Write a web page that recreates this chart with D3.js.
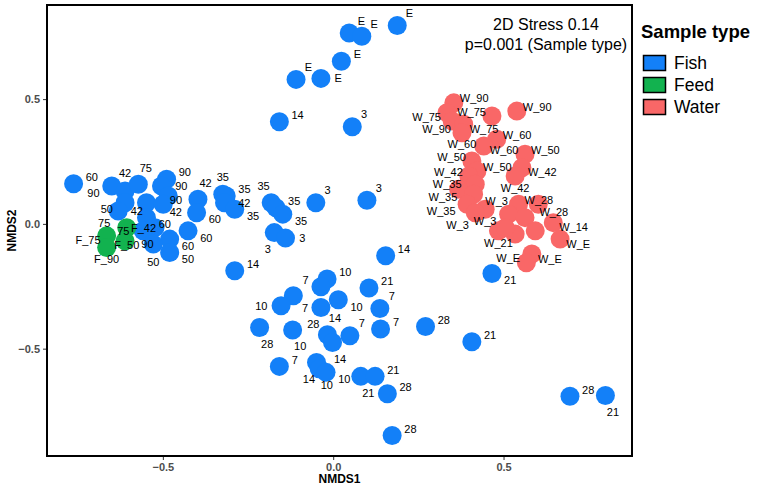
<!DOCTYPE html>
<html>
<head>
<meta charset="utf-8">
<script src="https://cdn.jsdelivr.net/npm/d3@7"></script>
<style>
  body { margin: 0; background: #fff; }
  text { font-family: "Liberation Sans", Arial, Helvetica, sans-serif; }
</style>
</head>
<body>
<div id="chart"></div>
<script>
// ---- data (NMDS scores) ----
const groups = ["Fish", "Feed", "Water"];
const groupColors = ["#1380F8", "#12B24F", "#F96767"];

const fishLabels = ["60","90","42","75","90","90","42","42","90","50","75","60","90","75","60","50","50","42","60","60","35","35","42","35",
  "35","35","35","3","3","3","3","14","14",
  "E","E","E","E","E","E","14","3",
  "10","7","21","10","7","10","28","7","28","10","14","14","7","7","28","7","14","10","10","21","21","28","28",
  "21","28","21","21"];
const fishX = [-0.762,-0.650,-0.611,-0.572,-0.489,-0.504,-0.484,-0.548,-0.499,-0.611,-0.631,-0.548,-0.523,-0.558,-0.480,-0.528,-0.480,-0.397,-0.401,-0.426,-0.324,-0.314,-0.319,-0.289,
  -0.182,-0.168,-0.148,-0.051,0.099,-0.173,-0.140,0.154,-0.289,
  0.047,0.084,0.188,0.024,-0.109,-0.036,-0.158,0.056,
  -0.018,-0.036,0.105,0.015,-0.117,-0.153,-0.036,0.137,-0.216,-0.119,-0.017,-0.002,0.049,0.139,0.271,-0.158,-0.049,-0.041,-0.021,0.081,0.123,0.159,0.173,
  0.407,0.695,0.799,0.466];
const fishY = [0.161,0.152,0.132,0.159,0.179,0.152,0.112,0.085,0.079,0.085,0.052,0.025,-0.015,-0.028,-0.061,-0.081,-0.115,0.099,0.045,-0.028,0.119,0.112,0.085,0.059,
  0.085,0.065,0.039,0.085,0.095,-0.035,-0.057,-0.128,-0.188,
  0.765,0.752,0.795,0.652,0.579,0.583,0.409,0.389,
  -0.221,-0.252,-0.257,-0.304,-0.288,-0.328,-0.335,-0.339,-0.415,-0.425,-0.444,-0.475,-0.448,-0.421,-0.411,-0.571,-0.555,-0.581,-0.595,-0.611,-0.611,-0.681,-0.848,
  -0.472,-0.691,-0.688,-0.199];

const feedLabels = ["F_75","F_50","F_90","F_42"];
const feedX = [-0.665,-0.606,-0.665,-0.611];
const feedY = [-0.048,-0.015,-0.095,-0.068];

// empty label = label dropped (too crowded) in the original
const waterLabels = ["W_90","W_75","W_90","W_75","W_60","W_75","W_90","W_60","W_60","W_50","W_50","W_42","W_50","W_42","W_42","W_35","W_35","W_3","W_35","W_3","W_3","W_28","W_28","W_14","W_E","W_21","W_E","W_E","","","","",""];
const waterX = [0.354,0.334,0.349,0.383,0.378,0.466,0.539,0.480,0.442,0.407,0.563,0.554,0.422,0.398,0.534,0.417,0.368,0.412,0.393,0.446,0.417,0.544,0.602,0.646,0.666,0.485,0.583,0.567,0.515,0.563,0.534,0.593,0.505];
const waterY = [0.485,0.445,0.412,0.399,0.365,0.432,0.452,0.339,0.312,0.252,0.279,0.225,0.212,0.192,0.192,0.159,0.139,0.119,0.079,0.059,0.045,0.079,0.079,0.005,-0.061,-0.028,-0.121,-0.156,0.039,0.025,-0.041,-0.028,-0.015];

const xTicks = [-0.5, 0, 0.5];
const yTicks = [-0.5, 0, 0.5];
const stressText = "2D Stress 0.14";
const pText = "p=0.001 (Sample type)";

// ---- layout ----
const W = 757, H = 490;
const panel = {left: 47, right: 632, top: 5, bottom: 456};
const R = 9.5;
const labelSize = 11;

let svg = d3.select("#chart").append("svg")
    .attr("width", W)
    .attr("height", H);

let pts = [];
[[fishX, fishY, fishLabels], [feedX, feedY, feedLabels], [waterX, waterY, waterLabels]].forEach(function(s, gi) {
    s[0].forEach(function(v, i) {
        pts.push({x: v, y: s[1][i], label: s[2][i], g: gi});
    });
});

// ggplot style 5% expansion
let xExt = d3.extent(pts, d => d.x), yExt = d3.extent(pts, d => d.y);
let xPad = (xExt[1] - xExt[0]) * 0.05, yPad = (yExt[1] - yExt[0]) * 0.05;
let xScale = d3.scaleLinear().domain([xExt[0] - xPad, xExt[1] + xPad]).range([panel.left, panel.right]);
let yScale = d3.scaleLinear().domain([yExt[0] - yPad, yExt[1] + yPad]).range([panel.bottom, panel.top]);

// axes
let xAxis = svg.append("g")
    .attr("transform", "translate(0," + panel.bottom + ")")
    .call(d3.axisBottom(xScale).tickValues(xTicks).tickSize(4).tickPadding(3).tickFormat(d3.format(".1f")));
let yAxis = svg.append("g")
    .attr("transform", "translate(" + panel.left + ",0)")
    .call(d3.axisLeft(yScale).tickValues(yTicks).tickSize(4).tickPadding(3).tickFormat(d3.format(".1f")));
[xAxis, yAxis].forEach(function(a) {
    a.select(".domain").remove();
    a.selectAll(".tick line").attr("stroke", "#333333").attr("stroke-width", 1);
    a.selectAll(".tick text")
        .attr("fill", "#4D4D4D")
        .style("font-size", "11px")
        .style("font-weight", "bold")
        .style("font-family", "'Liberation Sans', Arial, sans-serif");
});

svg.append("text")
    .attr("x", (panel.left + panel.right) / 2)
    .attr("y", 483)
    .attr("text-anchor", "middle")
    .style("font-size", "12px")
    .style("font-weight", "bold")
    .text("NMDS1");
svg.append("text")
    .attr("transform", "translate(16," + ((panel.top + panel.bottom) / 2) + ") rotate(-90)")
    .attr("text-anchor", "middle")
    .style("font-size", "12px")
    .style("font-weight", "bold")
    .text("NMDS2");

// points
svg.append("g")
    .selectAll("circle")
    .data(pts)
    .join("circle")
    .attr("cx", d => xScale(d.x))
    .attr("cy", d => yScale(d.y))
    .attr("r", R)
    .attr("fill", d => groupColors[d.g]);

// ---- simple label repel (greedy candidate placement) ----
let measure = svg.append("text").style("font-size", labelSize + "px");
function textW(s) { measure.text(s); return measure.node().getComputedTextLength(); }

let circles = pts.map(d => ({cx: xScale(d.x), cy: yScale(d.y)}));
let placed = [];

function circleHits(b, self) {
    let other = 0, own = 0, n = 0;
    for (let i = 0; i <= 6; i++) {
        for (let j = 0; j <= 3; j++) {
            let sx = b.x0 + (b.x1 - b.x0) * i / 6, sy = b.y0 + (b.y1 - b.y0) * j / 3;
            n++;
            let c = circles[self];
            if ((sx - c.cx) ** 2 + (sy - c.cy) ** 2 < R * R) own++;
            for (let k = 0; k < circles.length; k++) {
                if (k === self) continue;
                let o = circles[k];
                if ((sx - o.cx) ** 2 + (sy - o.cy) ** 2 < R * R) { other++; break; }
            }
        }
    }
    return [other / n, own / n];
}
function labelOverlap(b) {
    let a = 0;
    placed.forEach(function(p) {
        let w = Math.min(b.x1, p.x1) - Math.max(b.x0, p.x0);
        let h = Math.min(b.y1, p.y1) - Math.max(b.y0, p.y0);
        if (w > 0 && h > 0) a += w * h;
    });
    return a / ((b.x1 - b.x0) * (b.y1 - b.y0));
}

let labG = svg.append("g");
pts.forEach(function(d, idx) {
    if (!d.label) return;
    let cx = circles[idx].cx, cy = circles[idx].cy;
    let hw = textW(d.label) / 2 + 1, hh = 6;
    let best = null;
    for (let ring = 0; ring < 3; ring++) {
        for (let k = 0; k < 16; k++) {
            let th = k * Math.PI / 8 - Math.PI / 4;
            let bx = cx + Math.cos(th) * (R * 0.7 + hw + 6 * ring);
            let by = cy + Math.sin(th) * (R * 0.7 + hh - 1 + 6 * ring);
            let b = {x0: bx - hw, x1: bx + hw, y0: by - hh, y1: by + hh};
            let out = (b.x0 < panel.left + 2 || b.x1 > panel.right - 2 || b.y0 < panel.top + 2 || b.y1 > panel.bottom - 2) ? 100 : 0;
            let ch = circleHits(b, idx);
            let score = 25 * labelOverlap(b) + 0.8 * ch[0] + 4 * ch[1] + 0.6 * ring + out + k * 0.001;
            if (!best || score < best.score) best = {score: score, b: b, bx: bx, by: by, ring: ring};
        }
    }
    placed.push(best.b);
    if (best.ring > 1) {
        let vx = cx - best.bx, vy = cy - best.by;
        let s = Math.min(hw / Math.abs(vx || 1e-6), (hh - 1) / Math.abs(vy || 1e-6));
        let ex = best.bx + vx * s, ey = best.by + vy * s;
        let len = Math.hypot(vx, vy);
        let sx = cx - vx / len * R * 0.4, sy = cy - vy / len * R * 0.4;
        if (Math.hypot(ex - cx, ey - cy) > R + 4) {
            labG.append("line")
                .attr("x1", sx).attr("y1", sy).attr("x2", ex).attr("y2", ey)
                .attr("stroke", "black").attr("stroke-width", 1);
        }
    }
    labG.append("text")
        .attr("x", best.bx)
        .attr("y", best.by + 4)
        .attr("text-anchor", "middle")
        .style("font-size", labelSize + "px")
        .attr("fill", "black")
        .text(d.label);
});
measure.remove();

// panel border
svg.append("rect")
    .attr("x", panel.left)
    .attr("y", panel.top)
    .attr("width", panel.right - panel.left)
    .attr("height", panel.bottom - panel.top)
    .attr("fill", "none")
    .attr("stroke", "black")
    .attr("stroke-width", 2);

// annotation
svg.append("text").attr("x", 546).attr("y", 30).attr("text-anchor", "middle")
    .style("font-size", "16px").text(stressText);
svg.append("text").attr("x", 546).attr("y", 50).attr("text-anchor", "middle")
    .style("font-size", "16px").text(pText);

// legend
let legend = svg.append("g");
legend.append("text")
    .attr("x", 641).attr("y", 38)
    .style("font-size", "18.5px")
    .style("font-weight", "bold")
    .text("Sample type");
groups.forEach(function(g, i) {
    legend.append("rect")
        .attr("x", 643.5).attr("y", 55.5 + i * 22)
        .attr("width", 22).attr("height", 15)
        .attr("fill", groupColors[i])
        .attr("stroke", "black")
        .attr("stroke-width", 1.5);
    legend.append("text")
        .attr("x", 674).attr("y", 69 + i * 22)
        .style("font-size", "17.5px")
        .text(g);
});
</script>
</body>
</html>
